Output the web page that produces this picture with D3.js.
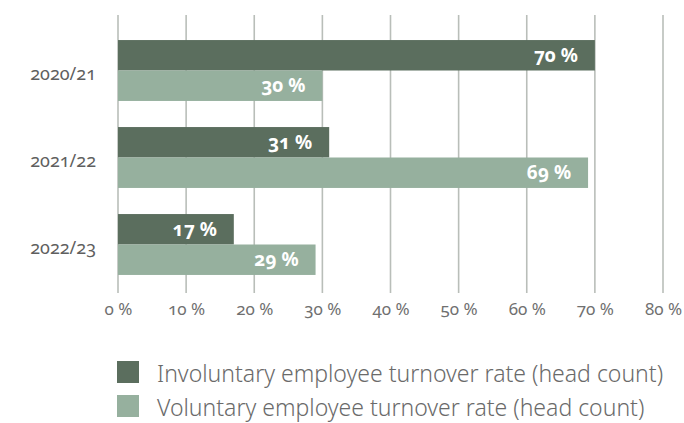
<!DOCTYPE html>
<html>
<head>
<meta charset="utf-8">
<script src="https://cdn.jsdelivr.net/npm/d3@7"></script>
<style>
  html, body { margin: 0; padding: 0; background: #fff; }
  svg { display: block; }
  text { font-family: "Noto Sans", "Open Sans", sans-serif; font-variant-numeric: oldstyle-nums; }
</style>
</head>
<body>
<svg id="chart" width="684" height="423"></svg>
<script>
// Employee turnover by fiscal year
const years = ["2020/21", "2021/22", "2022/23"];
const involuntary = [70, 31, 17];
const voluntary = [30, 69, 29];
const seriesNames = [
  "Involuntary employee turnover rate (head count)",
  "Voluntary employee turnover rate (head count)"
];
const tickValues = [0, 10, 20, 30, 40, 50, 60, 70, 80];
const colors = ["#5b6e5e", "#96b09e"];

const svg = d3.select("#chart");

const x = d3.scaleLinear().domain([0, 80]).range([118, 663]);
const y = d3.scaleBand().domain(years).range([27, 288]).paddingInner(0.3).paddingOuter(0.15);
const sub = d3.scaleBand().domain([0, 1]).range([0, y.bandwidth()]);

// vertical grid lines
svg.append("g")
  .selectAll("line")
  .data(tickValues)
  .join("line")
  .attr("x1", d => x(d)).attr("x2", d => x(d))
  .attr("y1", 15).attr("y2", 293)
  .attr("stroke", "#b9beb9")
  .attr("stroke-width", 1.6);

// x axis tick labels
const xAxis = d3.axisBottom(x).tickValues(tickValues).tickSize(0).tickPadding(0).tickFormat(d => d + " %");
svg.append("g")
  .attr("transform", "translate(0,0)")
  .call(xAxis)
  .call(g => g.select(".domain").remove())
  .call(g => g.selectAll("text")
    .attr("y", 315)
    .attr("dy", null)
    .attr("font-size", 17)
    .attr("fill", "#707070")
    .style("font-family", "\"Noto Sans\", sans-serif"));

// category labels
const yAxis = d3.axisLeft(y).tickSize(0).tickPadding(0);
svg.append("g")
  .attr("transform", "translate(96,4)")
  .call(yAxis)
  .call(g => g.select(".domain").remove())
  .call(g => g.selectAll("text")
    .attr("font-size", 18)
    .attr("fill", "#5f5f5f")
    .style("font-family", "\"Noto Sans\", sans-serif"));

// bars
const rows = years.map((yr, i) => ({ yr, vals: [involuntary[i], voluntary[i]] }));
const groups = svg.append("g").selectAll("g")
  .data(rows)
  .join("g")
  .attr("transform", d => `translate(0,${y(d.yr)})`);

const cells = groups.selectAll("g")
  .data(d => d.vals.map((v, k) => ({ v, k })))
  .join("g");

cells.append("rect")
  .attr("x", x(0))
  .attr("y", d => sub(d.k))
  .attr("width", d => x(d.v) - x(0))
  .attr("height", sub.bandwidth())
  .attr("fill", d => colors[d.k]);

cells.append("text")
  .attr("x", d => x(d.v) - 17)
  .attr("y", d => sub(d.k) + sub.bandwidth() / 2)
  .attr("dy", "0.35em")
  .attr("text-anchor", "end")
  .attr("font-size", 19)
  .attr("font-weight", "bold")
  .attr("fill", "#fff")
  .text(d => d.v + " %");

// legend
const legend = svg.append("g").selectAll("g")
  .data(seriesNames)
  .join("g")
  .attr("transform", (d, i) => `translate(117,${361 + i * 34})`);

legend.append("rect")
  .attr("width", 22).attr("height", 22)
  .attr("fill", (d, i) => colors[i]);

legend.append("text")
  .attr("x", 40).attr("y", 20.5)
  .attr("font-size", 23)
  .attr("fill", "#6a6a6a")
  .style("font-weight", 300)
  .text(d => d);
</script>
</body>
</html>
